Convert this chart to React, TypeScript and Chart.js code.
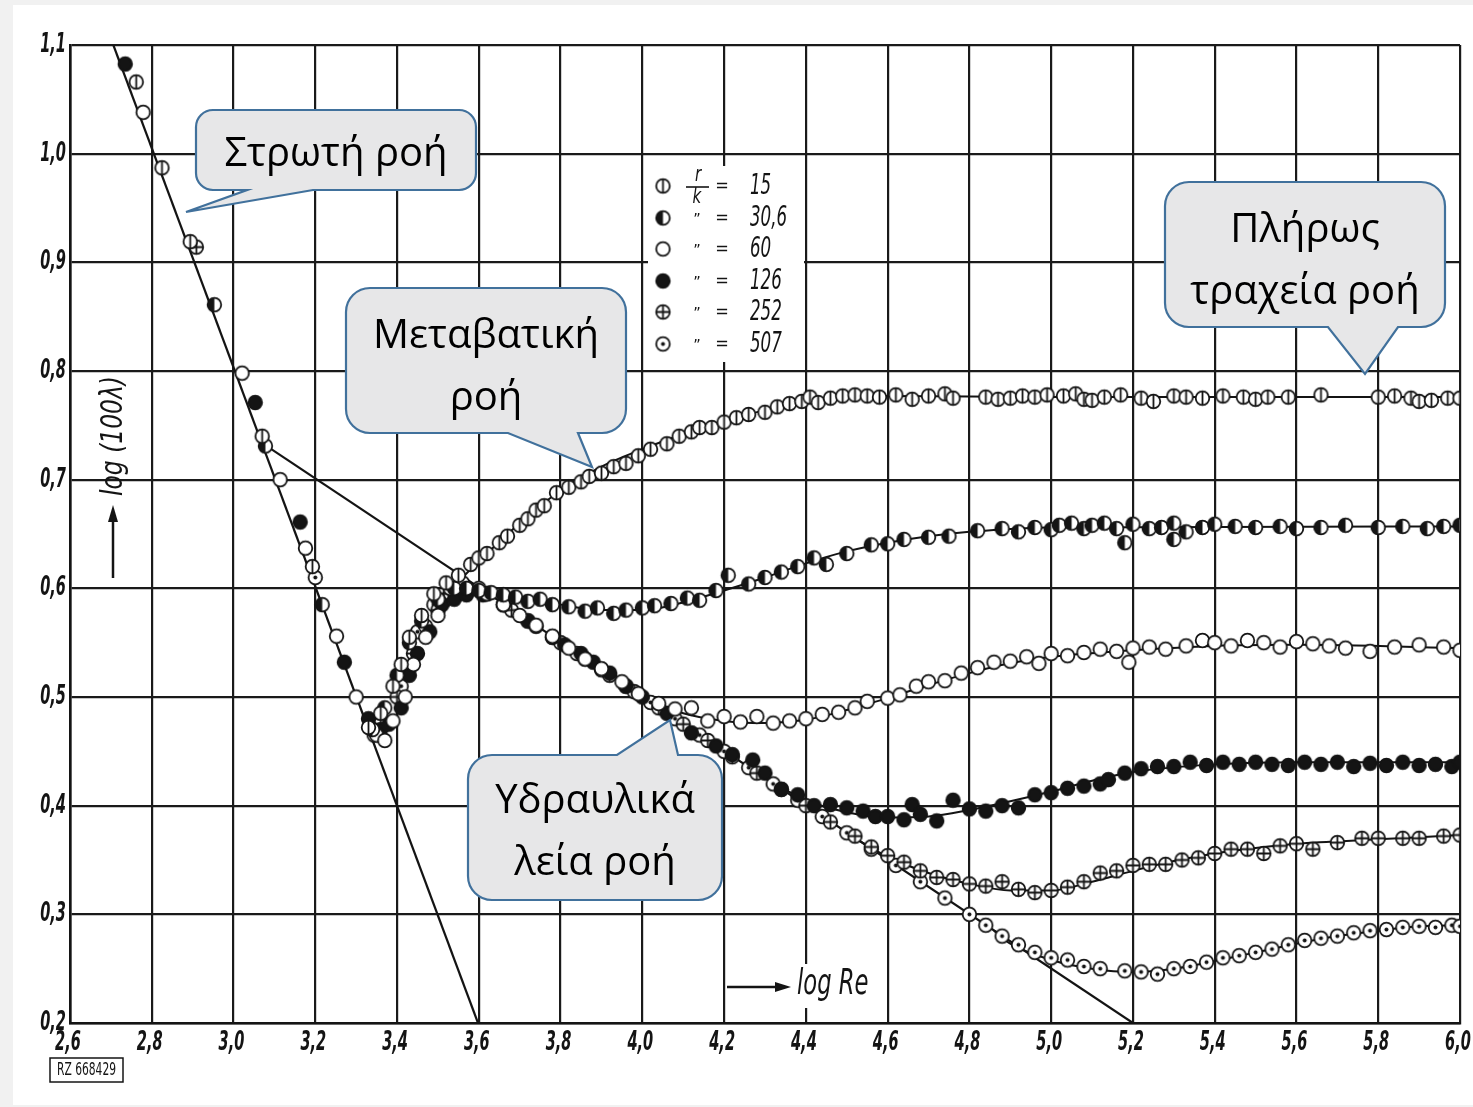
import React, { useEffect, useRef } from "react";
import { Chart, registerables } from "chart.js";

Chart.register(...registerables);

// ---------- axes ----------
const X_MIN = 2.6;
const X_MAX = 6.0;
const X_STEP = 0.2;
const Y_MIN = 0.2;
const Y_MAX = 1.1;
const Y_STEP = 0.1;

// ---------- legend ----------
const SERIES_LABELS = ["15", "30,6", "60", "126", "252", "507"];
const SERIES_MARKERS = ["vbar", "half", "open", "filled", "cross", "dot"];

// ---------- measured points (log Re, log(100λ)) ----------
const S15: [number, number][] = [
  [2.762, 1.066], [2.825, 0.987], [2.894, 0.919], [3.07, 0.74], [3.193, 0.62],
  [3.33, 0.472], [3.36, 0.485], [3.39, 0.51], [3.41, 0.53], [3.43, 0.555], [3.46, 0.575],
  [3.49, 0.595], [3.52, 0.605], [3.55, 0.612], [3.58, 0.622], [3.6, 0.628],
  [3.62, 0.632], [3.65, 0.642], [3.67, 0.648], [3.7, 0.658], [3.72, 0.664], [3.74, 0.672],
  [3.76, 0.676], [3.79, 0.688], [3.82, 0.693], [3.85, 0.698], [3.87, 0.703], [3.9, 0.706],
  [3.93, 0.712], [3.96, 0.715], [3.99, 0.722], [4.02, 0.728], [4.06, 0.733], [4.09, 0.74],
  [4.12, 0.744], [4.14, 0.748], [4.17, 0.748], [4.2, 0.753], [4.23, 0.757], [4.26, 0.76],
  [4.3, 0.762], [4.33, 0.767], [4.36, 0.77], [4.39, 0.772], [4.41, 0.776], [4.43, 0.771],
  [4.46, 0.775], [4.49, 0.777], [4.52, 0.778], [4.55, 0.777], [4.58, 0.776], [4.62, 0.778],
  [4.66, 0.774], [4.7, 0.777], [4.74, 0.779], [4.76, 0.775], [4.84, 0.776], [4.87, 0.774],
  [4.9, 0.775], [4.93, 0.777], [4.96, 0.776], [4.99, 0.778], [5.03, 0.777], [5.06, 0.779],
  [5.08, 0.774], [5.1, 0.773], [5.13, 0.776], [5.17, 0.778], [5.22, 0.775], [5.25, 0.772],
  [5.3, 0.777], [5.33, 0.776], [5.37, 0.775], [5.42, 0.777], [5.47, 0.776], [5.5, 0.774],
  [5.53, 0.776], [5.58, 0.776], [5.66, 0.778], [5.8, 0.776], [5.84, 0.777], [5.88, 0.775],
  [5.9, 0.772], [5.93, 0.773], [5.97, 0.775], [6.0, 0.775],
];

const S30: [number, number][] = [
  [2.953, 0.861], [3.078, 0.731], [3.217, 0.585],
  [3.34, 0.47], [3.37, 0.49], [3.4, 0.52], [3.43, 0.55], [3.46, 0.57], [3.5, 0.59],
  [3.54, 0.6], [3.57, 0.6],
  [3.6, 0.598], [3.63, 0.596], [3.66, 0.594], [3.69, 0.592], [3.72, 0.588], [3.75, 0.59],
  [3.78, 0.585], [3.82, 0.583], [3.86, 0.579], [3.89, 0.582], [3.93, 0.577], [3.96, 0.58],
  [4.0, 0.582], [4.03, 0.584], [4.07, 0.586], [4.11, 0.591], [4.14, 0.589], [4.18, 0.598],
  [4.21, 0.612], [4.26, 0.604], [4.3, 0.61], [4.34, 0.615], [4.38, 0.62], [4.42, 0.628],
  [4.45, 0.622], [4.5, 0.632], [4.56, 0.64], [4.6, 0.641], [4.64, 0.645], [4.7, 0.647],
  [4.75, 0.648], [4.82, 0.653], [4.88, 0.655], [4.92, 0.652], [4.96, 0.656], [5.0, 0.654],
  [5.02, 0.658], [5.05, 0.66], [5.08, 0.655], [5.1, 0.658], [5.13, 0.66], [5.16, 0.655],
  [5.18, 0.642], [5.2, 0.659], [5.24, 0.655], [5.27, 0.656], [5.3, 0.66], [5.3, 0.645],
  [5.33, 0.652], [5.37, 0.656], [5.4, 0.659], [5.45, 0.657], [5.5, 0.656], [5.56, 0.657],
  [5.6, 0.655], [5.66, 0.656], [5.72, 0.658], [5.8, 0.656], [5.86, 0.657], [5.92, 0.655],
  [5.96, 0.657], [6.0, 0.658],
];

const S60: [number, number][] = [
  [2.779, 1.038], [3.021, 0.798], [3.114, 0.7], [3.176, 0.637], [3.252, 0.556], [3.3, 0.5],
  [3.35, 0.465], [3.37, 0.46], [3.39, 0.478], [3.42, 0.5], [3.44, 0.53], [3.47, 0.555],
  [3.5, 0.575], [3.53, 0.6], [3.56, 0.605],
  [3.62, 0.595], [3.66, 0.585], [3.7, 0.575], [3.74, 0.566], [3.78, 0.556], [3.82, 0.545],
  [3.86, 0.535], [3.9, 0.526], [3.95, 0.514], [3.99, 0.503], [4.04, 0.494], [4.08, 0.489],
  [4.12, 0.49], [4.16, 0.478], [4.2, 0.482], [4.24, 0.477], [4.28, 0.482], [4.32, 0.476],
  [4.36, 0.478], [4.4, 0.48], [4.44, 0.484], [4.48, 0.486], [4.52, 0.49], [4.55, 0.496],
  [4.6, 0.499], [4.63, 0.502], [4.67, 0.51], [4.7, 0.514], [4.74, 0.515], [4.78, 0.522],
  [4.82, 0.527], [4.86, 0.532], [4.9, 0.533], [4.94, 0.537], [4.97, 0.531], [5.0, 0.54],
  [5.04, 0.538], [5.08, 0.541], [5.12, 0.544], [5.16, 0.542], [5.19, 0.532], [5.2, 0.545],
  [5.24, 0.546], [5.28, 0.544], [5.33, 0.547], [5.37, 0.552], [5.4, 0.55], [5.44, 0.547],
  [5.48, 0.552], [5.52, 0.55], [5.56, 0.546], [5.6, 0.551], [5.64, 0.549], [5.68, 0.547],
  [5.72, 0.545], [5.78, 0.542], [5.84, 0.546], [5.9, 0.548], [5.96, 0.546], [6.0, 0.543],
];

const S126: [number, number][] = [
  [2.735, 1.0825], [3.053, 0.771], [3.163, 0.661], [3.271, 0.532], [3.33, 0.48],
  [3.36, 0.47], [3.38, 0.475], [3.41, 0.49], [3.43, 0.52], [3.45, 0.54], [3.48, 0.56],
  [3.51, 0.585], [3.54, 0.59], [3.57, 0.594],
  [3.61, 0.594], [3.66, 0.585], [3.72, 0.57], [3.78, 0.555], [3.81, 0.548], [3.85, 0.54],
  [3.88, 0.532], [3.92, 0.522], [3.96, 0.51], [4.0, 0.5], [4.06, 0.485], [4.12, 0.467],
  [4.18, 0.455], [4.22, 0.447], [4.27, 0.442], [4.3, 0.43], [4.34, 0.415], [4.38, 0.41],
  [4.42, 0.4], [4.46, 0.401], [4.5, 0.398], [4.54, 0.395], [4.57, 0.39], [4.6, 0.39],
  [4.64, 0.387], [4.66, 0.401], [4.68, 0.392], [4.72, 0.386], [4.76, 0.405], [4.8, 0.397],
  [4.84, 0.395], [4.88, 0.4], [4.92, 0.398], [4.96, 0.41], [5.0, 0.412], [5.04, 0.416],
  [5.08, 0.418], [5.12, 0.42], [5.14, 0.424], [5.18, 0.43], [5.22, 0.434], [5.26, 0.436],
  [5.3, 0.436], [5.34, 0.44], [5.38, 0.437], [5.42, 0.44], [5.46, 0.438], [5.5, 0.44],
  [5.54, 0.438], [5.58, 0.437], [5.62, 0.44], [5.66, 0.438], [5.7, 0.44], [5.74, 0.436],
  [5.78, 0.439], [5.82, 0.437], [5.86, 0.44], [5.9, 0.437], [5.94, 0.438], [5.98, 0.436],
  [6.0, 0.44],
];

const S252: [number, number][] = [
  [2.909, 0.914],
  [3.36, 0.48], [3.4, 0.5], [3.44, 0.54], [3.47, 0.565], [3.5, 0.58], [3.53, 0.595], [3.56, 0.6],
  [3.62, 0.595], [3.68, 0.58], [3.74, 0.565], [3.8, 0.55], [3.86, 0.535], [3.92, 0.52],
  [3.98, 0.505], [4.04, 0.49], [4.1, 0.475], [4.16, 0.46], [4.22, 0.445], [4.28, 0.43],
  [4.34, 0.415], [4.4, 0.4], [4.46, 0.385], [4.52, 0.372], [4.56, 0.362], [4.6, 0.354],
  [4.64, 0.348], [4.68, 0.34], [4.72, 0.334], [4.76, 0.332], [4.8, 0.328], [4.84, 0.326],
  [4.88, 0.33], [4.92, 0.323], [4.96, 0.32], [5.0, 0.322], [5.04, 0.325], [5.08, 0.33],
  [5.12, 0.338], [5.16, 0.34], [5.2, 0.345], [5.24, 0.346], [5.28, 0.346], [5.32, 0.35],
  [5.36, 0.352], [5.4, 0.356], [5.44, 0.36], [5.48, 0.36], [5.52, 0.356], [5.56, 0.363],
  [5.6, 0.365], [5.64, 0.36], [5.7, 0.366], [5.76, 0.37], [5.8, 0.37], [5.86, 0.37],
  [5.9, 0.37], [5.96, 0.372], [6.0, 0.373],
];

const S507: [number, number][] = [
  [3.2, 0.61], [3.344, 0.465],
  [3.37, 0.475], [3.41, 0.51], [3.45, 0.56], [3.49, 0.585], [3.52, 0.59], [3.55, 0.595],
  [3.6, 0.6], [3.66, 0.585], [3.72, 0.57], [3.78, 0.555], [3.84, 0.54], [3.9, 0.525],
  [3.96, 0.51], [4.02, 0.495], [4.08, 0.48], [4.14, 0.465], [4.2, 0.45], [4.26, 0.435],
  [4.32, 0.42], [4.38, 0.405], [4.44, 0.39], [4.5, 0.375], [4.56, 0.36], [4.62, 0.345],
  [4.68, 0.33], [4.74, 0.315], [4.8, 0.3], [4.84, 0.29], [4.88, 0.28], [4.92, 0.272],
  [4.96, 0.265], [5.0, 0.26], [5.04, 0.258], [5.08, 0.252], [5.12, 0.25], [5.18, 0.248],
  [5.22, 0.247], [5.26, 0.245], [5.3, 0.25], [5.34, 0.252], [5.38, 0.256], [5.42, 0.26],
  [5.46, 0.262], [5.5, 0.265], [5.54, 0.268], [5.58, 0.272], [5.62, 0.276], [5.66, 0.278],
  [5.7, 0.28], [5.74, 0.283], [5.78, 0.285], [5.82, 0.286], [5.86, 0.288], [5.9, 0.289],
  [5.94, 0.288], [5.98, 0.29], [6.0, 0.289],
];

// ---------- drawn curves ----------
const LAMINAR_LINE: [number, number][] = [[2.706, 1.1], [3.598, 0.2]];
const BLASIUS_LINE: [number, number][] = [[3.085, 0.73], [5.2, 0.2]];

const CURVE15: [number, number][] = [
  [3.56, 0.61], [3.6, 0.625], [3.7, 0.66], [3.8, 0.69], [3.9, 0.712], [4.0, 0.728],
  [4.1, 0.742], [4.2, 0.754], [4.3, 0.764], [4.4, 0.772], [4.5, 0.776], [4.6, 0.777],
  [5.0, 0.776], [6.0, 0.776],
];
const CURVE30: [number, number][] = [
  [3.58, 0.6], [3.7, 0.592], [3.8, 0.585], [3.9, 0.58], [4.0, 0.58], [4.1, 0.587],
  [4.2, 0.598], [4.3, 0.61], [4.4, 0.623], [4.5, 0.634], [4.6, 0.642], [4.7, 0.648],
  [4.8, 0.652], [5.0, 0.656], [6.0, 0.657],
];
const CURVE60: [number, number][] = [
  [4.0, 0.5], [4.1, 0.485], [4.2, 0.478], [4.3, 0.476], [4.4, 0.479], [4.5, 0.488],
  [4.6, 0.499], [4.7, 0.511], [4.8, 0.522], [4.9, 0.531], [5.0, 0.537], [5.2, 0.543],
  [5.4, 0.547], [5.6, 0.548], [6.0, 0.545],
];
const CURVE126: [number, number][] = [
  [4.28, 0.43], [4.4, 0.405], [4.5, 0.394], [4.6, 0.389], [4.7, 0.39], [4.8, 0.396],
  [4.9, 0.404], [5.0, 0.413], [5.1, 0.423], [5.2, 0.431], [5.4, 0.438], [5.6, 0.44],
  [6.0, 0.44],
];
const CURVE252: [number, number][] = [
  [4.52, 0.37], [4.6, 0.353], [4.7, 0.338], [4.8, 0.328], [4.9, 0.322], [5.0, 0.322],
  [5.1, 0.33], [5.2, 0.34], [5.3, 0.349], [5.4, 0.356], [5.5, 0.361], [5.6, 0.365],
  [5.8, 0.369], [6.0, 0.373],
];
const CURVE507: [number, number][] = [
  [4.86, 0.285], [4.9, 0.273], [5.0, 0.258], [5.1, 0.25], [5.2, 0.247], [5.3, 0.25],
  [5.4, 0.257], [5.5, 0.265], [5.6, 0.273], [5.7, 0.28], [5.8, 0.285], [5.9, 0.289],
  [6.0, 0.29],
];

// ---------- annotation texts ----------
const CALLOUT_TEXTS = [
  ["Στρωτή ροή"],
  ["Μεταβατική", "ροή"],
  ["Υδραυλικά", "λεία ροή"],
  ["Πλήρως", "τραχεία ροή"],
];
const Y_TITLE = "log (100λ)";
const X_TITLE = "log Re";
const STAMP = "RZ 668429";

const INK = "#141414";
const NARROW = '"DejaVu Sans Condensed", "DejaVu Sans", sans-serif';
const CALLOUT_FONT = '"Open Sans", "Noto Sans", sans-serif';

function makeMarker(kind: string, r = 6.8): HTMLCanvasElement {
  const s = Math.ceil(r * 2 + 5);
  const c = document.createElement("canvas");
  c.width = s;
  c.height = s;
  const g = c.getContext("2d")!;
  const cx = s / 2;
  const cy = s / 2;
  g.lineWidth = 1.8;
  g.strokeStyle = INK;
  g.fillStyle = "#fff";
  g.beginPath();
  g.arc(cx, cy, r, 0, Math.PI * 2);
  g.fill();
  if (kind === "filled") {
    g.fillStyle = INK;
    g.fill();
  }
  g.stroke();
  if (kind === "vbar") {
    g.beginPath();
    g.moveTo(cx, cy - r);
    g.lineTo(cx, cy + r);
    g.stroke();
  } else if (kind === "half") {
    g.beginPath();
    g.moveTo(cx, cy - r);
    g.arc(cx, cy, r, -Math.PI / 2, Math.PI / 2, true);
    g.closePath();
    g.fillStyle = INK;
    g.fill();
  } else if (kind === "cross") {
    g.beginPath();
    g.moveTo(cx, cy - r);
    g.lineTo(cx, cy + r);
    g.moveTo(cx - r, cy);
    g.lineTo(cx + r, cy);
    g.stroke();
  } else if (kind === "dot") {
    g.beginPath();
    g.arc(cx, cy, 2, 0, Math.PI * 2);
    g.fillStyle = INK;
    g.fill();
  }
  return c;
}

type Pt = [number, number];
type CalloutSpec = {
  x: number; y: number; w: number; h: number; r: number;
  edge: "top" | "bottom"; tail: [Pt, Pt, Pt];
  baselines: number[]; cx: number;
};

const CALLOUT_GEOM: CalloutSpec[] = [
  { x: 196, y: 110, w: 280, h: 80, r: 17, edge: "bottom", tail: [[313, 190], [186, 212], [247, 190]], baselines: [166], cx: 336 },
  { x: 346, y: 288, w: 280, h: 145, r: 24, edge: "bottom", tail: [[578, 433], [592, 467], [508, 433]], baselines: [348, 410], cx: 486 },
  { x: 468, y: 755, w: 254, h: 145, r: 24, edge: "top", tail: [[617, 755], [670, 720], [678, 755]], baselines: [813, 875], cx: 595 },
  { x: 1165, y: 182, w: 280, h: 145, r: 24, edge: "bottom", tail: [[1398, 327], [1365, 374], [1328, 327]], baselines: [242, 304], cx: 1305 },
];

function drawCallout(ctx: CanvasRenderingContext2D, c: CalloutSpec, lines: string[]) {
  const { x, y, w, h, r } = c;
  ctx.save();
  ctx.beginPath();
  ctx.moveTo(x + r, y);
  if (c.edge === "top") {
    ctx.lineTo(c.tail[0][0], c.tail[0][1]);
    ctx.lineTo(c.tail[1][0], c.tail[1][1]);
    ctx.lineTo(c.tail[2][0], c.tail[2][1]);
  }
  ctx.lineTo(x + w - r, y);
  ctx.arcTo(x + w, y, x + w, y + r, r);
  ctx.lineTo(x + w, y + h - r);
  ctx.arcTo(x + w, y + h, x + w - r, y + h, r);
  if (c.edge === "bottom") {
    ctx.lineTo(c.tail[0][0], c.tail[0][1]);
    ctx.lineTo(c.tail[1][0], c.tail[1][1]);
    ctx.lineTo(c.tail[2][0], c.tail[2][1]);
  }
  ctx.lineTo(x + r, y + h);
  ctx.arcTo(x, y + h, x, y + h - r, r);
  ctx.lineTo(x, y + r);
  ctx.arcTo(x, y, x + r, y, r);
  ctx.closePath();
  ctx.fillStyle = "#e7e7e8";
  ctx.fill();
  ctx.lineWidth = 2.2;
  ctx.strokeStyle = "#41719c";
  ctx.lineJoin = "miter";
  ctx.stroke();
  ctx.fillStyle = "#000";
  ctx.font = `40px ${CALLOUT_FONT}`;
  ctx.textAlign = "center";
  ctx.textBaseline = "alphabetic";
  lines.forEach((t, i) => ctx.fillText(t, c.cx, c.baselines[i]));
  ctx.restore();
}

// narrow (horizontally compressed) italic text, like the drawing's lettering
function narrowText(
  ctx: CanvasRenderingContext2D, text: string, x: number, y: number,
  size: number, sx: number, align: CanvasTextAlign, italic = true, bold = false,
) {
  ctx.save();
  ctx.translate(x, y);
  ctx.scale(sx, 1);
  ctx.font = `${italic ? "italic " : ""}${bold ? "bold " : ""}${size}px ${NARROW}`;
  ctx.textAlign = align;
  ctx.textBaseline = "middle";
  ctx.fillText(text, 0, 0);
  ctx.restore();
}

const fmt = (v: number | string) => Number(v).toFixed(1).replace(".", ",");

export default function App() {
  const ref = useRef<HTMLCanvasElement | null>(null);

  useEffect(() => {
    document.body.style.margin = "0";
    const canvas = ref.current;
    if (!canvas) return;
    const markers = SERIES_MARKERS.map((m) => makeMarker(m));
    const toXY = (a: Pt[]) => a.map(([x, y]) => ({ x, y }));
    const pointSets = [S15, S30, S60, S126, S252, S507];
    const curveSets = [CURVE15, CURVE30, CURVE60, CURVE126, CURVE252, CURVE507];

    const datasets: any[] = [];
    pointSets.forEach((pts, i) => {
      datasets.push({
        label: "r/k = " + SERIES_LABELS[i],
        data: toXY(pts),
        pointStyle: markers[i],
        pointRadius: 7,
        showLine: false,
        order: 1,
      });
    });
    curveSets.forEach((pts, i) => {
      datasets.push({
        label: "curve " + SERIES_LABELS[i],
        data: toXY(pts),
        showLine: true,
        pointRadius: 0,
        borderColor: INK,
        borderWidth: 2,
        tension: 0.4,
        cubicInterpolationMode: "monotone",
        order: 2,
      });
    });
    [LAMINAR_LINE, BLASIUS_LINE].forEach((pts, i) => {
      datasets.push({
        label: i === 0 ? "laminar" : "Blasius",
        data: toXY(pts),
        showLine: true,
        pointRadius: 0,
        borderColor: INK,
        borderWidth: 2.2,
        order: 2,
      });
    });

    const bgPlugin = {
      id: "bg",
      beforeDraw(chart: any) {
        const ctx = chart.ctx as CanvasRenderingContext2D;
        ctx.save();
        ctx.fillStyle = "#f1f1f1";
        ctx.fillRect(0, 0, chart.width, chart.height);
        ctx.fillStyle = "#ffffff";
        ctx.fillRect(13, 5, chart.width - 13, chart.height - 7);
        ctx.restore();
      },
    };

    const overlayPlugin = {
      id: "overlay",
      afterDraw(chart: any) {
        const ctx = chart.ctx as CanvasRenderingContext2D;
        ctx.save();
        ctx.fillStyle = INK;
        ctx.strokeStyle = INK;

        // tick labels, positioned by the chart's own scales
        const xs = chart.scales.x;
        const ys = chart.scales.y;
        xs.ticks.forEach((t: any) => {
          narrowText(ctx, fmt(t.value), xs.getPixelForValue(t.value) - 2, 1043, 27, 0.6, "center", true, true);
        });
        ys.ticks.forEach((t: any) => {
          narrowText(ctx, fmt(t.value), 66, ys.getPixelForValue(t.value), 27, 0.6, "right", true, true);
        });

        // legend panel
        ctx.fillStyle = "#fff";
        ctx.fillRect(648, 166, 156, 196);
        ctx.fillStyle = INK;
        const rows = [186, 218, 249, 281, 312, 344];
        rows.forEach((ry, i) => {
          const m = markers[i];
          ctx.drawImage(m, 663 - m.width / 2, ry - m.height / 2);
          if (i === 0) {
            narrowText(ctx, "r", 698, ry - 10, 21, 0.8, "center");
            narrowText(ctx, "k", 697, ry + 12, 21, 0.8, "center");
            ctx.lineWidth = 1.6;
            ctx.beginPath();
            ctx.moveTo(686, ry + 1);
            ctx.lineTo(709, ry + 1);
            ctx.stroke();
          } else {
            narrowText(ctx, "\u201D", 697, ry + 3, 16, 1, "center", false);
          }
          narrowText(ctx, "=", 722, ry, 18, 1, "center", false);
          narrowText(ctx, SERIES_LABELS[i], 750, ry, 29, 0.64, "left");
        });

        // y axis title
        ctx.save();
        ctx.translate(114, 436);
        ctx.rotate(-Math.PI / 2);
        narrowText(ctx, Y_TITLE, 0, 0, 31, 0.84, "center");
        ctx.restore();
        ctx.lineWidth = 2.5;
        ctx.beginPath();
        ctx.moveTo(113, 578);
        ctx.lineTo(113, 518);
        ctx.stroke();
        ctx.beginPath();
        ctx.moveTo(113, 505);
        ctx.lineTo(108, 522);
        ctx.lineTo(118, 522);
        ctx.closePath();
        ctx.fill();

        // x axis title
        ctx.fillStyle = "#fff";
        ctx.fillRect(793, 964, 84, 44);
        ctx.fillStyle = INK;
        ctx.beginPath();
        ctx.moveTo(727, 987);
        ctx.lineTo(778, 987);
        ctx.stroke();
        ctx.beginPath();
        ctx.moveTo(791, 987);
        ctx.lineTo(775, 982);
        ctx.lineTo(775, 992);
        ctx.closePath();
        ctx.fill();
        narrowText(ctx, X_TITLE, 797, 985, 35, 0.72, "left");

        // stamp
        ctx.lineWidth = 1.5;
        ctx.strokeRect(50, 1058, 73, 24);
        narrowText(ctx, STAMP, 86.5, 1071, 17, 0.7, "center", false);
        ctx.restore();

        CALLOUT_GEOM.forEach((c, i) => drawCallout(ctx, c, CALLOUT_TEXTS[i]));
      },
    };

    const chart = new Chart(canvas, {
      type: "scatter",
      data: { datasets },
      options: {
        animation: false,
        responsive: false,
        devicePixelRatio: 1,
        layout: { padding: { top: 45, right: 13, left: 0, bottom: 0 } },
        plugins: { legend: { display: false }, tooltip: { enabled: false } },
        scales: {
          x: {
            type: "linear",
            min: X_MIN,
            max: X_MAX,
            ticks: { stepSize: X_STEP, display: false, autoSkip: false },
            grid: { color: "#1a1a1a", lineWidth: 2.2, drawTicks: false },
            border: { color: INK, width: 2.6 },
            afterFit(s: any) {
              s.height = 84;
              s.paddingLeft = 0;
              s.paddingRight = 0;
            },
          },
          y: {
            type: "linear",
            min: Y_MIN,
            max: Y_MAX,
            ticks: { stepSize: Y_STEP, display: false, autoSkip: false },
            grid: { color: "#1a1a1a", lineWidth: 2.2, drawTicks: false },
            border: { color: INK, width: 2.6 },
            afterFit(s: any) {
              s.width = 70;
              s.paddingTop = 0;
              s.paddingBottom = 0;
            },
          },
        },
      },
      plugins: [bgPlugin, overlayPlugin],
    } as any);

    return () => chart.destroy();
  }, []);

  return (
    <div style={{ width: 1473, height: 1107, position: "relative" }}>
      <canvas ref={ref} width={1473} height={1107} style={{ display: "block", width: 1473, height: 1107 }} />
    </div>
  );
}
